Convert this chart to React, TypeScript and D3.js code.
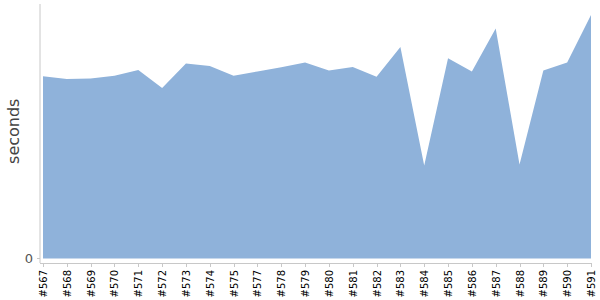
import React from "react";
import * as d3 from "d3";

const builds = ["#567","#568","#569","#570","#571","#572","#573","#574","#575","#577","#578","#579","#580","#581","#582","#583","#584","#585","#586","#587","#588","#589","#590","#591"];
const seconds = [71.6, 70.5, 70.7, 71.8, 74.1, 67.0, 76.6, 75.6, 71.8, 73.5, 75.1, 77.0, 73.9, 75.2, 71.4, 83.1, 36.5, 78.7, 73.5, 90.4, 36.9, 73.9, 77.0, 95.7];
const yMax = 100;

const W = 600, H = 300;
const left = 40, top = 4, baseY = 258.5, axisY = 263;
const x0 = 43, x1 = 591;

export default function App() {
  const x = d3.scalePoint<string>().domain(builds).range([x0, x1]);
  const y = d3.scaleLinear().domain([0, yMax]).range([baseY, top]);
  const area = d3.area<number>()
    .x((_, i) => x(builds[i]) as number)
    .y0(y(0))
    .y1((d) => y(d));
  return (
    <svg width={W} height={H} style={{ position: "absolute", left: 0, top: 0 }}>
      <path d={area(seconds) || ""} fill="#8fb2da" />
      <line x1={left} x2={left} y1={top} y2={axisY} stroke="#c8c8c8" strokeWidth={1} />
      <line x1={left} x2={x1} y1={axisY + 0.5} y2={axisY + 0.5} stroke="#c8c8c8" strokeWidth={1} />
      <line x1={left - 3} x2={left} y1={y(0)} y2={y(0)} stroke="#c8c8c8" />
      <text x={33} y={y(0)} dy="0.35em" textAnchor="end" fontFamily="DejaVu Sans" fontSize={13} fill="#555">0</text>
      <text transform={`translate(19,${(top + baseY) / 2}) rotate(-90)`} textAnchor="middle" fontFamily="DejaVu Sans" fontSize={16} fill="#444">seconds</text>
      {builds.map((b) => {
        const px = Math.round(x(b) as number) + 0.5;
        return (
          <g key={b}>
            <line x1={px} x2={px} y1={axisY} y2={axisY + 4} stroke="#c8c8c8" />
            <text transform={`translate(${px + 3.5},270) rotate(-90)`} textAnchor="end" fontFamily="DejaVu Sans" fontSize={10} fill="#000">{b}</text>
          </g>
        );
      })}
    </svg>
  );
}
